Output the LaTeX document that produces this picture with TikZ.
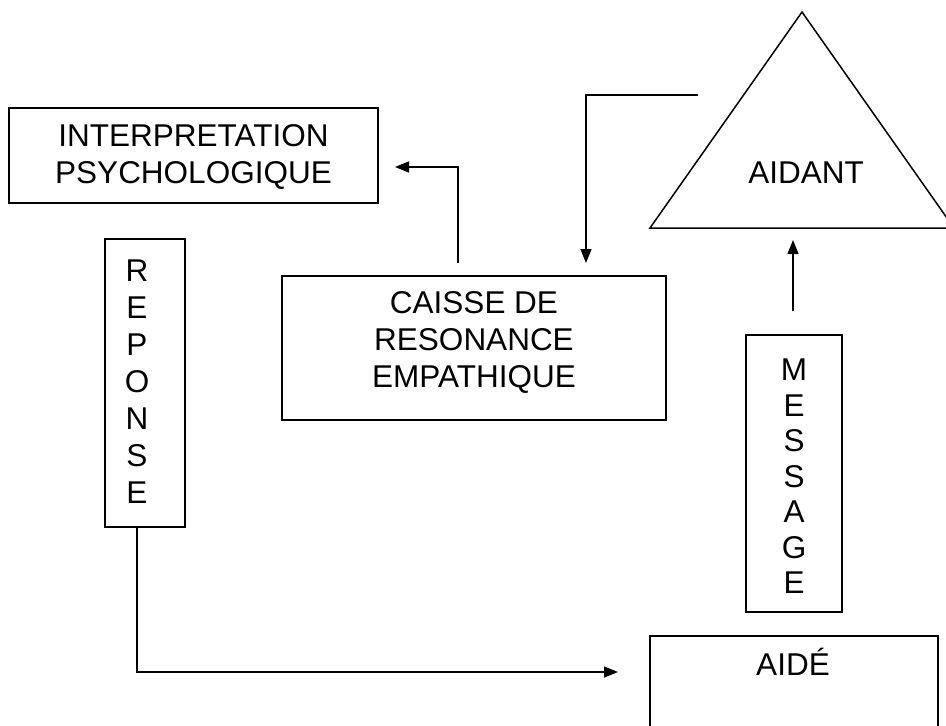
\documentclass[tikz,border=0pt]{standalone}
\usepackage{fontspec}
\setmainfont{Liberation Sans}
\usetikzlibrary{arrows.meta}
\begin{document}
\begin{tikzpicture}[x=1pt,y=-1pt,
  box/.style={draw, line width=1.5pt, rectangle, inner sep=0pt},
  lbl/.style={font=\fontsize{31.5}{37}\selectfont, align=center, inner sep=0pt},
  conn/.style={line width=1.5pt, -{Triangle[length=14pt,width=11pt]}},
]
\useasboundingbox (0,0) rectangle (946,726);
\clip (0,0) rectangle (946,726);

% triangle AIDANT
\coordinate (tA) at (802,12);
\coordinate (tL) at (650,228);
\coordinate (tR) at (954,228);
\draw[line width=1.5pt] (tA) -- (tL) -- (tR) -- cycle;
\node[lbl, anchor=base] (aidant) at (806,183) {AIDANT};

% boxes
\node[box, minimum width=369pt, minimum height=95pt] (interp) at (193.5,155.5) {};
\node[lbl, anchor=north] (interpT) at (193.5,124.4) {INTERPRETATION\\PSYCHOLOGIQUE};

\node[box, minimum width=384pt, minimum height=144pt] (caisse) at (474,348) {};
\node[lbl, anchor=north] (caisseT) at (474,291.4) {CAISSE DE\\RESONANCE\\EMPATHIQUE};

\node[box, minimum width=80pt, minimum height=288pt] (reponse) at (145,383) {};
\node[lbl, anchor=north] (reponseT) at (137,259.7) {R\\E\\P\\O\\N\\S\\E};

\node[box, minimum width=96pt, minimum height=277pt] (message) at (794,473.5) {};
\node[lbl, font=\fontsize{31.5}{35.5}\selectfont, anchor=north] (messageT) at (794,358.7) {M\\E\\S\\S\\A\\G\\E};

\node[box, minimum width=288pt, minimum height=130pt] (aide) at (794,701) {};
\node[lbl, anchor=base] (aideT) at (793,675) {AIDÉ};

% connectors
\coordinate (c1s) at (698,95);
\coordinate (c1e) at (586,263);
\draw[conn] (c1s) -| (c1e);

\coordinate (c2s) at (458,263);
\coordinate (c2e) at (395,167);
\draw[conn] (c2s) |- (c2e);

\coordinate (c3s) at (793,311);
\coordinate (c3e) at (793,240);
\draw[conn] (c3s) -- (c3e);

\coordinate (c4s) at (137,527);
\coordinate (c4e) at (618,672);
\draw[conn] (c4s) |- (c4e);
\end{tikzpicture}
\end{document}
